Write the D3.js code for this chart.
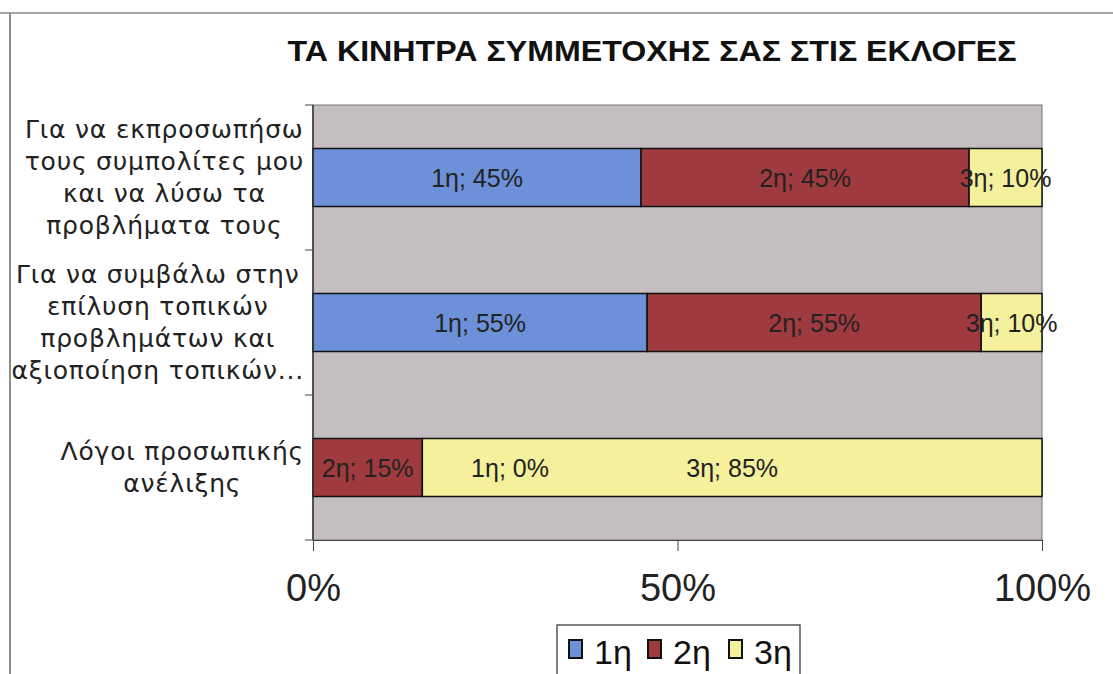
<!DOCTYPE html>
<html>
<head>
<meta charset="utf-8">
<script src="https://cdn.jsdelivr.net/npm/d3@7"></script>
<title>ΤΑ ΚΙΝΗΤΡΑ ΣΥΜΜΕΤΟΧΗΣ ΣΑΣ ΣΤΙΣ ΕΚΛΟΓΕΣ</title>
<style>
  body { margin: 0; background: #fff; }
  svg { display: block; font-family: "Liberation Sans", Arial, sans-serif; }
</style>
</head>
<body>
<div id="viz"></div>
<script>

// chart data
var categories = [
    ["Για να εκπροσωπήσω", "τους συμπολίτες μου", "και να λύσω τα", "προβλήματα τους"],
    ["Για να συμβάλω στην", "επίλυση τοπικών", "προβλημάτων και", "αξιοποίηση τοπικών..."],
    ["Λόγοι προσωπικής", "ανέλιξης"]
];
var seriesNames = ["1η", "2η", "3η"];
var first  = [45, 55, 0];
var second = [45, 55, 15];
var third  = [10, 10, 85];
var tickValues = [0, 0.5, 1];
var tickLabels = ["0%", "50%", "100%"];

var colors = ["#6d91d9", "#9f3a3f", "#f5f09c"];

var W = 1113, H = 674;
var svg = d3.select("#viz").append("svg")
    .attr("width", W).attr("height", H);

// outer frame (only left and top edges show)
svg.append("line").attr("x1", 10).attr("x2", 10).attr("y1", 13).attr("y2", H)
    .attr("stroke", "#666").attr("stroke-width", 1.5);
svg.append("line").attr("x1", 0).attr("x2", W).attr("y1", 13).attr("y2", 13)
    .attr("stroke", "#888").attr("stroke-width", 1.5);

svg.append("text")
    .attr("x", 652).attr("y", 61)
    .attr("text-anchor", "middle")
    .attr("font-size", 30).attr("font-weight", "bold")
    .attr("textLength", 729).attr("lengthAdjust", "spacingAndGlyphs")
    .attr("fill", "#111")
    .text("ΤΑ ΚΙΝΗΤΡΑ ΣΥΜΜΕΤΟΧΗΣ ΣΑΣ ΣΤΙΣ ΕΚΛΟΓΕΣ");

var x = d3.scaleLinear().domain([0, 1]).range([313, 1042]);
var y = d3.scaleBand().domain(d3.range(categories.length)).range([105, 540])
    .paddingInner(0.6).paddingOuter(0.3);

var rows = categories.map(function(c, i){
    return {"1η": first[i], "2η": second[i], "3η": third[i]};
});
var stacked = d3.stack().keys(seriesNames).offset(d3.stackOffsetExpand)(rows);

// plot background
svg.append("rect")
    .attr("x", x(0)).attr("y", 105)
    .attr("width", x(1) - x(0)).attr("height", 540 - 105)
    .attr("fill", "#c4bec0").attr("stroke", "#777").attr("stroke-width", 1);

// category ticks on left axis
var edges = d3.range(categories.length + 1).map(function(i){
    return i < categories.length ? y(i) - y.step() * 0.3 : y(i - 1) + y.bandwidth() + y.step() * 0.3;
});
svg.selectAll("line.cattick").data(edges).enter().append("line")
    .attr("class", "cattick")
    .attr("x1", x(0) - 8).attr("x2", x(0))
    .attr("y1", function(d){ return d; }).attr("y2", function(d){ return d; })
    .attr("stroke", "#444");

// bars
var layer = svg.selectAll("g.series").data(stacked).enter().append("g")
    .attr("class", "series")
    .attr("fill", function(d, i){ return colors[i]; });
layer.selectAll("rect").data(function(d){ return d; }).enter().append("rect")
    .attr("x", function(d){ return x(d[0]); })
    .attr("y", function(d, i){ return y(i); })
    .attr("width", function(d){ return x(d[1]) - x(d[0]); })
    .attr("height", y.bandwidth())
    .attr("stroke", "#111").attr("stroke-width", 1.5);

// data labels
var labelShift = {"0-2": 197};
stacked.forEach(function(s, si){
    s.forEach(function(d, i){
        var cx = (x(d[0]) + x(d[1])) / 2 + (labelShift[si + "-" + i] || 0);
        svg.append("text")
            .attr("x", cx).attr("y", y(i) + y.bandwidth() / 2 + 9)
            .attr("text-anchor", "middle")
            .attr("font-size", 25).attr("fill", "#222")
            .text(s.key + "; " + d.data[s.key] + "%");
    });
});

// left axis line
svg.append("line").attr("x1", x(0)).attr("x2", x(0)).attr("y1", 105).attr("y2", 540)
    .attr("stroke", "#333").attr("stroke-width", 1.5);

// bottom axis
var xAxis = svg.append("g")
    .attr("transform", "translate(0,540)")
    .call(d3.axisBottom(x).tickValues(tickValues).tickSize(11)
        .tickFormat(function(d, i){ return tickLabels[i]; }));
xAxis.select(".domain").attr("stroke", "#444");
xAxis.selectAll(".tick line").attr("stroke", "#444");
xAxis.selectAll(".tick text")
    .attr("y", 34).attr("font-size", 38).attr("fill", "#222")
    .attr("font-family", "Liberation Sans, Arial, sans-serif");

// category labels: block right-aligned at the axis, lines centred inside
categories.forEach(function(lines, i){
    var g = svg.append("g");
    var cy = y(i) + y.bandwidth() / 2;
    var lh = 32;
    var texts = lines.map(function(t, k){
        return g.append("text")
            .attr("y", cy + (k - (lines.length - 1) / 2) * lh + 8)
            .attr("text-anchor", "middle")
            .attr("font-family", "DejaVu Sans, sans-serif")
            .attr("font-size", 25).attr("letter-spacing", 0.8)
            .attr("fill", "#222")
            .text(t);
    });
    var maxW = d3.max(texts, function(t){ return t.node().getComputedTextLength(); });
    texts.forEach(function(t){ t.attr("x", 304 - maxW / 2); });
});

// legend
var lg = svg.append("g");
lg.append("rect").attr("x", 557).attr("y", 625).attr("width", 243).attr("height", 60)
    .attr("fill", "#fff").attr("stroke", "#555").attr("stroke-width", 1.5);
var legendX = [569, 648, 729];
seriesNames.forEach(function(n, i){
    lg.append("rect").attr("x", legendX[i]).attr("y", 640)
        .attr("width", 13).attr("height", 18)
        .attr("fill", colors[i]).attr("stroke", "#111").attr("stroke-width", 2);
    lg.append("text").attr("x", legendX[i] + 25).attr("y", 664)
        .attr("font-size", 34).attr("fill", "#111")
        .text(n);
});

</script>
</body>
</html>
